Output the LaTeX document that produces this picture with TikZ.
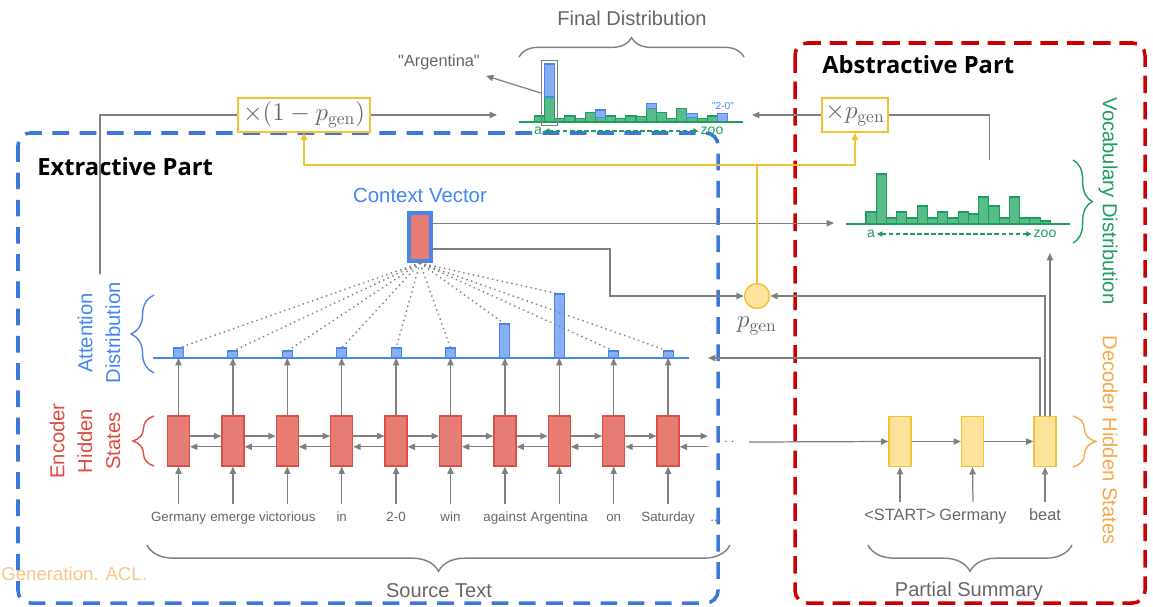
\documentclass[tikz,border=0pt]{standalone}
\usepackage[no-math]{fontspec}
\setmainfont{Liberation Sans}
\newfontfamily\osans{Open Sans}
\usetikzlibrary{arrows.meta,decorations.pathreplacing}
\definecolor{gl}{HTML}{7F7F7F}
\definecolor{tx}{HTML}{666666}
\definecolor{yl}{HTML}{F1C232}
\definecolor{ylfill}{HTML}{FCE29A}
\definecolor{encfill}{HTML}{E67C73}
\definecolor{encdraw}{HTML}{DB5046}
\definecolor{enctxt}{HTML}{DD4B3E}
\definecolor{bl}{HTML}{4A86E8}
\definecolor{bltxt}{HTML}{4285F4}
\definecolor{blfill}{HTML}{86AEF5}
\definecolor{bldash}{HTML}{3C78D8}
\definecolor{gr}{HTML}{1E9E5A}
\definecolor{grfill}{HTML}{57BB8A}
\definecolor{rd}{HTML}{CC0000}
\definecolor{org}{HTML}{F6A94B}
\definecolor{lorg}{HTML}{F9C58A}
\begin{document}
\begin{tikzpicture}[x=0.02cm, y=-0.02cm,
  tip/.style={-{Triangle[length=4.2pt,width=3.6pt]}},
  line/.style={gl, line width=0.7pt},
  arr/.style={gl, line width=0.7pt, tip},
  yarr/.style={yl, line width=0.8pt, tip},
  encbox/.style={rectangle, draw=encdraw, fill=encfill, line width=0.7pt, minimum width=0.44cm, minimum height=1.0cm, inner sep=0pt},
  decbox/.style={rectangle, draw=yl, fill=ylfill, line width=0.7pt, minimum width=0.44cm, minimum height=1.0cm, inner sep=0pt},
  attbar/.style={rectangle, draw=bl, fill=blfill, line width=0.6pt, minimum width=0.2cm, inner sep=0pt, outer sep=0pt, anchor=south},
  eword/.style={text=tx, font=\fontsize{7.6}{9}\selectfont, text height=6pt, text depth=1.6pt, inner xsep=1pt, inner ysep=4pt},
  dword/.style={text=tx, font=\fontsize{9.3}{11}\selectfont, text height=7pt, text depth=2pt, inner xsep=1pt, inner ysep=3.5pt},
  lbl/.style={text=tx, font=\fontsize{11.4}{13}\selectfont},
  gbar/.style={draw=gr, fill=grfill, line width=0.6pt},
  bbar/.style={draw=bl, fill=blfill, line width=0.6pt},
  brc/.style={decorate, decoration={brace, amplitude=#1}, line width=0.8pt},
  mathbox/.style={draw=yl, line width=0.8pt, text=tx, inner sep=0pt, font=\fontsize{14.5}{16}\selectfont},
  title/.style={font=\osans\bfseries\fontsize{13.5}{16}\selectfont, text=black, inner sep=0pt},
  small/.style={font=\fontsize{8}{9}\selectfont, inner sep=1pt},
]
\useasboundingbox (0,0) rectangle (1153,606);

% ---------- dashed part boxes ----------
\draw[bldash, line width=2pt, dash pattern=on 9.5pt off 6pt, rounded corners=7pt] (18,133) rectangle (718,603);
\draw[rd, line width=2pt, dash pattern=on 10pt off 5pt, rounded corners=7pt] (795,43) rectangle (1145,603);
\node[title, anchor=west] (extlab) at (37,167) {Extractive Part};
\node[title, anchor=west] (abslab) at (822,65) {Abstractive Part};

% ---------- encoder ----------
\foreach \i/\x/\w in {1/178.5/Germany, 2/232.9/emerge, 3/287.3/victorious, 4/341.7/in, 5/396.1/2-0, 6/450.5/win, 7/504.9/against, 8/559.3/Argentina, 9/613.7/on, 10/668.1/Saturday} {
  \node[encbox] (enc\i) at (\x,441) {};
  \node[eword] (w\i) at (\x,518) {\w};
  \draw[arr] (w\i.north) -- (enc\i.south);
}
\node[eword] (wdots) at (716,518) {...};
\foreach \i in {1,...,9} {
  \pgfmathtruncatemacro\j{\i+1}
  \draw[arr] ([yshift=2.8pt]enc\i.east) -- ([yshift=2.8pt]enc\j.west);
  \draw[arr] ([yshift=-3.3pt]enc\j.west) -- ([yshift=-3.3pt]enc\i.east);
}
\coordinate (encend) at (708,441);
\draw[arr] ([yshift=2.8pt]enc10.east) -- ([yshift=2.8pt]encend);
\draw[arr] ([yshift=-3.3pt]encend) -- ([yshift=-3.3pt]enc10.east);

% ---------- attention ----------
\foreach \i/\x/\h in {1/178.5/0.2, 2/232.9/0.14, 3/287.3/0.14, 4/341.7/0.2, 5/396.1/0.2, 6/450.5/0.2, 7/504.9/0.68, 8/559.3/1.28, 9/613.7/0.14, 10/668.1/0.14} {
  \node[attbar, minimum height=\h cm] (att\i) at (\x,358) {};
  \draw[arr] (enc\i.north) -- (att\i.south);
}
\draw[bl, line width=0.8pt] (153,358) -- (689,358);

% context vector
\node[draw=bl, fill=encfill, line width=2.2pt, minimum width=0.44cm, minimum height=0.96cm, inner sep=0pt] (ctx) at (420,237) {};
\node[text=bltxt, font=\fontsize{11.6}{13}\selectfont] (ctxlab) at (420,195) {Context Vector};
\foreach \i in {1,...,10}
  \draw[gl, line width=0.8pt, dash pattern=on 0.8pt off 2pt] (ctx.south) -- (att\i.north);

% side labels
\draw[bl, brc=13pt] (154,373) -- (154,295);
\node[rotate=90, align=center, text=bltxt, font=\fontsize{11.5}{15.9}\selectfont] (attlab) at (99,333) {Attention\\Distribution};
\draw[encdraw, brc=12pt] (154,466) -- (154,416);
\node[rotate=90, align=center, text=enctxt, font=\fontsize{11.5}{15.9}\selectfont] (enclab) at (85,441) {Encoder\\Hidden\\States};

% ---------- decoder ----------
\node[decbox] (dec1) at (900,441.5) {};
\node[decbox] (dec2) at (972.5,441.5) {};
\node[decbox] (dec3) at (1045,441.5) {};
\node[dword] (dw1) at (900,516) {<START>};
\node[dword] (dw2) at (973,516) {Germany};
\node[dword] (dw3) at (1045,516) {beat};
\foreach \i in {1,2,3} \draw[arr] (dw\i.north) -- (dec\i.south);
\node[text=tx, font=\fontsize{8}{9}\selectfont, inner xsep=8pt, inner ysep=1pt] (edots) at (726,442) {$\cdots$};
\draw[arr] (edots.east) -- (dec1.west);
\draw[arr] (dec1.east) -- (dec2.west);
\draw[arr] (dec2.east) -- (dec3.west);
\draw[org, brc=13pt] (1073,416) -- (1073,467);
\node[rotate=-90, text=org, font=\fontsize{11.5}{13}\selectfont] (declab) at (1110,440) {Decoder Hidden States};

% ---------- p_gen ----------
\node[circle, draw=yl, fill=ylfill, line width=0.8pt, minimum size=0.5cm, inner sep=0pt] (pg) at (757,296) {};
\node[text=tx, font=\fontsize{14}{16}\selectfont] (pglab) at (757,326) {$p_{\mathrm{gen}}$};
\draw[arr] ([yshift=-6.8pt]ctx.east) -- ++(177,0) |- (pg.west);
\draw[arr] (dec3.north) |- (pg.east);
\coordinate (attin) at (708,358);
\draw[arr] ([xshift=-2.8pt]dec3.north) |- (attin);

% ---------- vocabulary distribution ----------
\node[minimum width=4.72cm, minimum height=1.86cm, inner sep=0pt, outer sep=0pt] (vocab) at (952,206.5) {};
\foreach \i/\t in {0/212, 1/174, 2/218, 3/212, 4/218, 5/206, 6/218, 7/212, 8/218, 9/212, 10/214, 11/197, 12/206, 13/218, 14/197, 15/218, 16/218, 17/221}
  \draw[gbar] (866+10.24*\i,224) rectangle (866+10.24*\i+10.24,\t);
\draw[gr, line width=0.9pt] (846,224) -- (1070,224);
\node[text=gr, small] (va) at (871,234) {a};
\node[text=gr, small] (vz) at (1045,234) {zoo};
\draw[gr, line width=0.6pt, dash pattern=on 2.5pt off 1.5pt, {Triangle[length=3pt,width=3pt]}-{Triangle[length=3pt,width=3pt]}] (va.east) -- (vz.west);
\draw[gr, brc=11pt] (1073,160) -- (1073,243);
\node[rotate=-90, text=gr, font=\fontsize{11.5}{13}\selectfont] (voclab) at (1108,201) {Vocabulary Distribution};
\draw[arr] ([yshift=7.9pt]ctx.east) -- ([yshift=7.9pt]ctx.east -| vocab.west);
\draw[arr] ([xshift=2.8pt]dec3.north) -- ([xshift=2.8pt]dec3.north |- vocab.south);

% ---------- final distribution ----------
\node[minimum width=5.1cm, minimum height=0.4cm, inner sep=0pt, outer sep=0pt] (final) at (624.5,115) {};
\foreach \i/\g in {0/116, 1/97, 2/118.5, 3/116, 4/118.5, 5/112.5, 6/117.5, 7/116, 8/118.5, 9/116, 10/116.7, 11/108.3, 12/112.7, 13/118.5, 14/108.3, 15/117.3, 16/118.5, 17/116}
  \draw[gbar] (534.3+10.17*\i,122) rectangle (534.3+10.17*\i+10.17,\g);
\foreach \i/\g/\b in {1/97/64, 6/117.5/110, 11/108.3/103.7, 15/117.3/113.3, 18/122/113.3}
  \draw[bbar] (534.3+10.17*\i,\g) rectangle (534.3+10.17*\i+10.17,\b);
\draw[gr, line width=0.9pt] (519,122) -- (743,122);
\node[draw=gl, line width=0.8pt, minimum width=0.32cm, minimum height=1.3cm, inner sep=0pt] (argbox) at (549.5,93) {};
\node[text=gr, small] (fa) at (538,131) {a};
\node[text=gr, small] (fz) at (712,131) {zoo};
\draw[gr, line width=0.6pt, dash pattern=on 2.5pt off 1.5pt, {Triangle[length=3pt,width=3pt]}-{Triangle[length=3pt,width=3pt]}] (fa.east) -- (fz.west);
\node[text=bltxt, font=\fontsize{5.8}{7}\selectfont] (tw) at (723,106) {\textquotedbl 2-0\textquotedbl};
\node[text=tx, font=\fontsize{9.3}{11}\selectfont] (arglab) at (439,62) {\textquotedbl Argentina\textquotedbl};
\draw[arr] (argbox.west) -- (arglab.south east);
\draw[gl, brc=11pt] (519,57) -- (744,57);
\node[lbl] (finlab) at (632,18) {Final Distribution};

% ---------- mixing ----------
\node[mathbox, minimum width=2.64cm, minimum height=0.68cm] (x1m) at (304,115) {$\times(1-p_{\mathrm{gen}})$};
\node[mathbox, minimum width=1.32cm, minimum height=0.68cm] (xpg) at (855,115) {$\times p_{\mathrm{gen}}$};
\coordinate (attfeed) at (100,274);
\draw[line] (attfeed) |- (x1m.west);
\draw[arr] (x1m.east) -- (final.west);
\draw[arr] (xpg.west) -- (final.east);
\draw[line] (xpg.east) -| ([xshift=21.5pt]vocab.north);
\draw[yarr] (pg.north) -- ++(0,-118) -| (x1m.south);
\draw[yarr] (pg.north) -- ++(0,-118) -| (xpg.south);

% ---------- bottom braces ----------
\draw[gl, brc=15pt] (730,545) -- (147,545);
\node[lbl] (srclab) at (439,591) {Source Text};
\draw[gl, brc=15pt] (1072,545) -- (868,545);
\node[lbl] (sumlab) at (969,591) {Partial Summary};
\node[text=lorg, font=\fontsize{10.6}{13}\selectfont, anchor=west, inner sep=0pt] (cite) at (1,574) {Generation. ACL.};
\end{tikzpicture}
\end{document}
